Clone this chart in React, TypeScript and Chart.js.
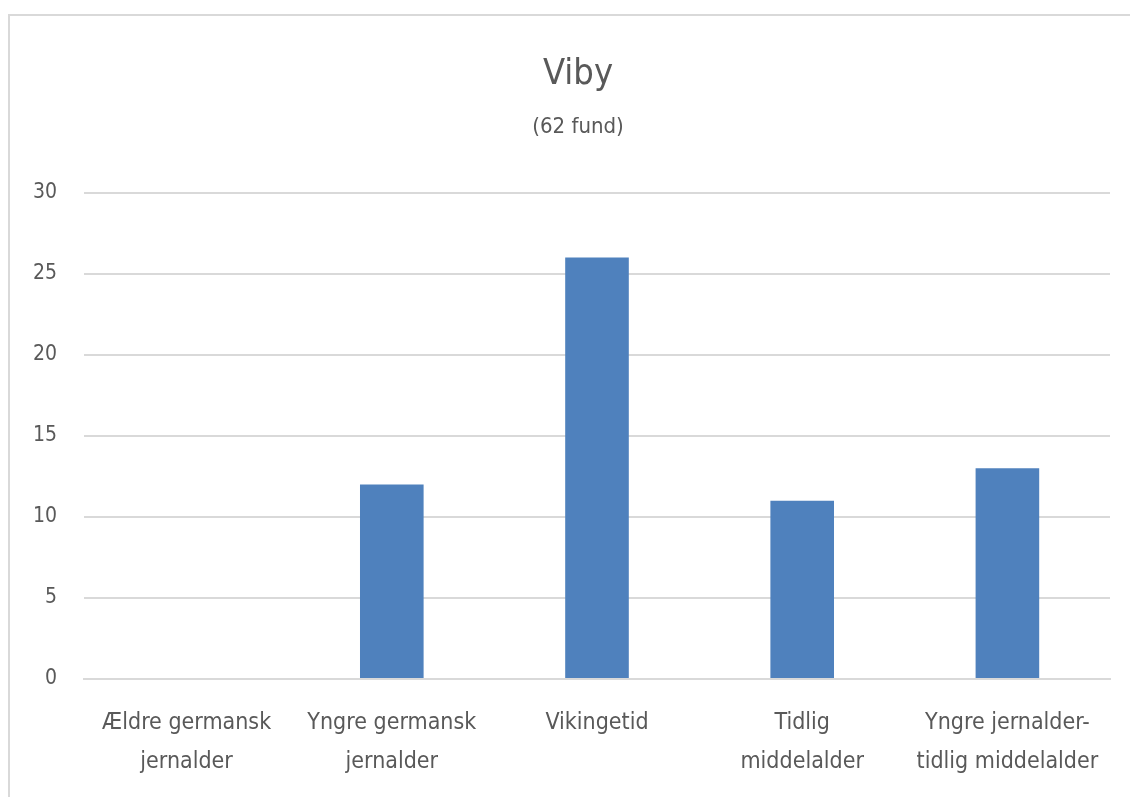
import React, { useEffect, useRef } from "react";
import { Chart, registerables } from "chart.js";

Chart.register(...registerables);

const categories: string[][] = [
  ["Ældre germansk", "jernalder"],
  ["Yngre germansk", "jernalder"],
  ["Vikingetid"],
  ["Tidlig", "middelalder"],
  ["Yngre jernalder-", "tidlig middelalder"],
];
const values: number[] = [0, 12, 26, 11, 13];
const titleText = "Viby";
const subtitleText = "(62 fund)";

const FONT = "'Liberation Sans Narrow', 'DejaVu Sans Condensed', 'Open Sans', sans-serif";
const TEXT = "#595959";
const GRID = "#d9d9d9";

// shift title & subtitle box so they are centred like in the original
const titleShift = {
  id: "titleShift",
  afterLayout(chart: any) {
    chart.boxes.forEach((b: any) => {
      if (b && b.options && (b.options.text === titleText || b.options.text === subtitleText)) {
        b.left += 36;
      }
    });
  },
};

export default function App() {
  const ref = useRef<HTMLCanvasElement | null>(null);
  useEffect(() => {
    if (!ref.current) return;
    const chart = new Chart(ref.current, {
      type: "bar",
      data: {
        labels: categories,
        datasets: [
          {
            data: values,
            backgroundColor: "#4f81bd",
            borderWidth: 0,
            categoryPercentage: 1,
            barPercentage: 0.31,
          },
        ],
      },
      options: {
        responsive: false,
        animation: false,
        layout: { padding: { top: 0, left: 0, right: 20, bottom: 0 } },
        plugins: {
          legend: { display: false },
          tooltip: { enabled: false },
          title: {
            display: true,
            text: titleText,
            color: TEXT,
            font: { family: FONT, size: 36, weight: "normal" },
            padding: { top: 37, bottom: 0 },
          },
          subtitle: {
            display: true,
            text: subtitleText,
            color: TEXT,
            font: { family: FONT, size: 22, weight: "normal" },
            padding: { top: 18, bottom: 52 },
          },
        },
        scales: {
          x: {
            grid: { display: false, drawTicks: false },
            border: { display: true, color: GRID, width: 2 },
            ticks: {
              color: TEXT,
              font: { family: FONT, size: 23, lineHeight: 1.7 },
              padding: 24,
              maxRotation: 0,
              autoSkip: false,
            },
            afterFit: (s: any) => {
              s.height = 118;
            },
          },
          y: {
            min: 0,
            max: 30,
            grid: { color: GRID, lineWidth: 2, drawTicks: false },
            border: { display: false },
            ticks: {
              stepSize: 5,
              color: TEXT,
              font: { family: FONT, size: 21 },
              padding: 27,
            },
            afterFit: (s: any) => {
              s.width = 74;
            },
          },
        },
      },
      plugins: [titleShift],
    });
    return () => chart.destroy();
  }, []);
  return (
    <div
      style={{
        position: "absolute",
        left: 8,
        top: 14,
        width: 1140,
        height: 800,
        borderLeft: "2px solid #d9d9d9",
        borderTop: "2px solid #d9d9d9",
        background: "#fff",
      }}
    >
      <canvas ref={ref} width={1120} height={781} style={{ display: "block" }} />
    </div>
  );
}
